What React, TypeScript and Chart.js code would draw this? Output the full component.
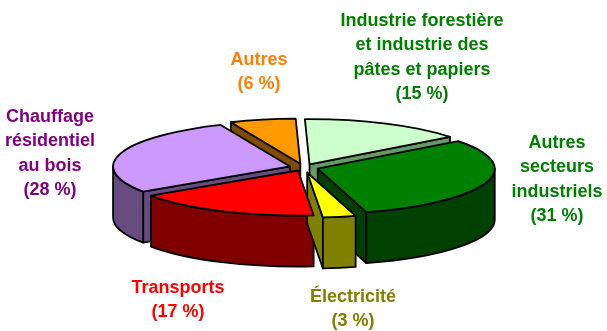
import React, { useEffect, useRef } from "react";
import { Chart, registerables } from "chart.js";

Chart.register(...registerables);

const categories = [
  "Industrie forestière et industrie des pâtes et papiers",
  "Autres secteurs industriels",
  "Électricité",
  "Transports",
  "Chauffage résidentiel au bois",
  "Autres",
];
const shares = [15, 31, 3, 17, 28, 6];
const topColours = ["#CCFFCC", "#008000", "#FFFF00", "#FF0000", "#CC99FF", "#FF9900"];
const sideColours = ["#669966", "#004000", "#808000", "#800000", "#664C80", "#804C00"];
const labelColours = ["#008000", "#008000", "#808000", "#FF0000", "#800080", "#FF8000"];
const labelLines = [
  ["Industrie forestière", "et industrie des", "pâtes et papiers", "(15 %)"],
  ["Autres", "secteurs", "industriels", "(31 %)"],
  ["Électricité", "(3 %)"],
  ["Transports", "(17 %)"],
  ["Chauffage", "résidentiel", "au bois", "(28 %)"],
  ["Autres", "(6 %)"],
];
const explodePx = [14, 15, 20, 13, 14, 15];

const W = 607;
const H = 331;
const RADIUS = 177;
const SQUASH = 0.255;
const DEPTH = 51;
const CENTRE_Y = 167.5;
const ROTATION = -1.5;
const LINE_H = 24.3;
const labelCentre = [
  [422, 21],
  [557, 143],
  [353, 297],
  [178, 288],
  [50, 117],
  [259, 60],
];

// Chart.js shifts an arc by offset/4 * (1 + fix); invert that so explodePx is the real shift.
const fixOf = (share: number) => 1 - Math.sin(Math.min(Math.PI, (share / 100) * 2 * Math.PI));
const offsets = shares.map((s, i) => (4 * explodePx[i]) / (1 + fixOf(s)));

const pie3d = {
  id: "pie3d",
  geom(chart: any) {
    const arcs = chart.getDatasetMeta(0).data;
    return arcs.map((a: any, i: number) => {
      const mid = (a.startAngle + a.endAngle) / 2;
      const px = explodePx[i];
      return {
        i,
        a: a.startAngle,
        b: a.endAngle,
        r: a.outerRadius,
        mid,
        x: a.x + Math.cos(mid) * px,
        y: CENTRE_Y + Math.sin(mid) * px * SQUASH,
      };
    });
  },
  beforeDatasetsDraw(chart: any) {
    const { ctx } = chart;
    const gs = (this as any).geom(chart).slice().sort((p: any, q: any) => Math.sin(p.mid) - Math.sin(q.mid));
    ctx.save();
    ctx.lineWidth = 1.8;
    ctx.strokeStyle = "#000";
    ctx.lineJoin = "round";
    for (const g of gs) {
      ctx.fillStyle = sideColours[g.i];
      const face = (t: number) => {
        const px = g.x + Math.cos(t) * g.r;
        const py = g.y + Math.sin(t) * g.r * SQUASH;
        ctx.beginPath();
        ctx.moveTo(g.x, g.y);
        ctx.lineTo(px, py);
        ctx.lineTo(px, py + DEPTH);
        ctx.lineTo(g.x, g.y + DEPTH);
        ctx.closePath();
        ctx.fill();
        ctx.stroke();
      };
      if (Math.cos(g.a) < -0.1) face(g.a);
      if (Math.cos(g.b) > 0.01) face(g.b);
      // Rim: the part of the arc facing the viewer (canvas angles in [0, PI], mod 2PI).
      for (const shift of [0, 2 * Math.PI]) {
        const s = Math.max(g.a, shift);
        const e = Math.min(g.b, shift + Math.PI);
        if (e > s) {
          ctx.beginPath();
          ctx.ellipse(g.x, g.y, g.r, g.r * SQUASH, 0, s, e);
          ctx.ellipse(g.x, g.y + DEPTH, g.r, g.r * SQUASH, 0, e, s, true);
          ctx.closePath();
          ctx.fill();
          ctx.stroke();
        }
      }
    }
    ctx.restore();
    // Squash the library's own arcs into the tilted plane.
    ctx.save();
    ctx.translate(0, CENTRE_Y);
    ctx.scale(1, SQUASH);
    ctx.translate(0, -(chart.chartArea.top + chart.chartArea.bottom) / 2);
  },
  afterDatasetsDraw(chart: any) {
    const { ctx } = chart;
    ctx.restore();
    const gs = (this as any).geom(chart);
    ctx.save();
    ctx.lineWidth = 1.8;
    ctx.strokeStyle = "#000";
    ctx.lineJoin = "round";
    for (const g of gs) {
      ctx.beginPath();
      ctx.moveTo(g.x, g.y);
      ctx.ellipse(g.x, g.y, g.r, g.r * SQUASH, 0, g.a, g.b);
      ctx.closePath();
      ctx.stroke();
    }
    ctx.font = 'bold 18px "Liberation Sans", Arial, sans-serif';
    ctx.textAlign = "center";
    ctx.textBaseline = "middle";
    labelLines.forEach((lines, i) => {
      ctx.fillStyle = labelColours[i];
      lines.forEach((line, n) => {
        ctx.fillText(line, labelCentre[i][0], labelCentre[i][1] + n * LINE_H);
      });
    });
    ctx.restore();
  },
};

export default function App() {
  const ref = useRef<HTMLCanvasElement>(null);
  useEffect(() => {
    document.body.style.margin = "0";
    const chart = new Chart(ref.current as HTMLCanvasElement, {
      type: "pie",
      data: {
        labels: categories,
        datasets: [
          {
            data: shares,
            backgroundColor: topColours,
            borderWidth: 0,
            offset: offsets,
            clip: false,
          } as any,
        ],
      },
      options: {
        animation: false,
        responsive: false,
        radius: RADIUS,
        rotation: ROTATION,
        layout: { padding: 0 },
        plugins: { legend: { display: false }, tooltip: { enabled: false } },
      } as any,
      plugins: [pie3d as any],
    });
    return () => chart.destroy();
  }, []);
  return <canvas ref={ref} width={W} height={H} style={{ display: "block", background: "#fff" }} />;
}
